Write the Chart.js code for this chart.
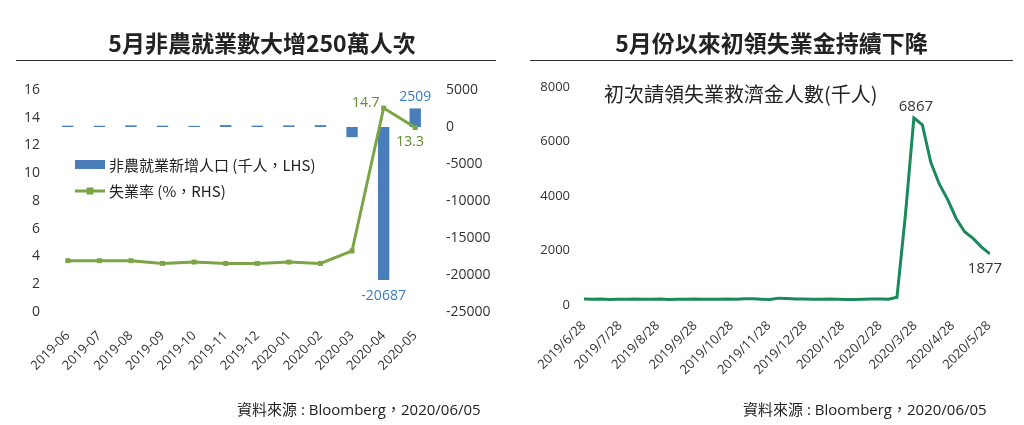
<!DOCTYPE html>
<html>
<head>
<meta charset="utf-8">
<script src="https://cdn.jsdelivr.net/npm/chart.js@4.4.1/dist/chart.umd.min.js"></script>
<style>
  html, body { margin:0; padding:0; background:#fff; }
  #page { position:relative; width:1024px; height:425px; overflow:hidden; background:#fff;
          font-family:'Open Sans','Noto Sans CJK TC',sans-serif; color:#222; }
  .title { position:absolute; top:27px; font-family:'Noto Sans CJK TC',sans-serif; font-weight:bold;
           font-size:23px; line-height:30px; text-align:center; color:#222; white-space:nowrap; z-index:2; }
  .rule { position:absolute; top:60px; height:0; border-top:1.5px solid #333; }
  .src { position:absolute; top:398px; font-size:15px; line-height:22px; color:#222; white-space:nowrap; z-index:2;
         font-family:'Open Sans','Noto Sans CJK TC',sans-serif; }
  .inner { position:absolute; left:604px; top:80px; font-family:'Noto Sans CJK TC',sans-serif; font-size:20px;
           line-height:28px; color:#222; white-space:nowrap; z-index:2; }
  .box { position:absolute; top:0; width:512px; height:425px; }
</style>
</head>
<body>
<div id="page">
  <div class="box" style="left:0"><canvas id="c1" width="512" height="425"></canvas></div>
  <div class="box" style="left:512px"><canvas id="c2" width="512" height="425"></canvas></div>
  <div class="title" style="left:22px;width:480px;">5月非農就業數大增250萬人次</div>
  <div class="title" style="left:530px;width:483px;">5月份以來初領失業金持續下降</div>
  <div class="rule" style="left:16px;width:480px;"></div>
  <div class="rule" style="left:530px;width:483px;"></div>
  <div class="inner">初次請領失業救濟金人數(千人)</div>
  <div class="src" style="left:237px;">資料來源 : Bloomberg，2020/06/05</div>
  <div class="src" style="left:743px;">資料來源 : Bloomberg，2020/06/05</div>
</div>
<script>
// ---------- Left chart data ----------
const months = ['2019-06','2019-07','2019-08','2019-09','2019-10','2019-11','2019-12','2020-01','2020-02','2020-03','2020-04','2020-05'];
const payrolls = [178, 166, 219, 180, 152, 256, 184, 214, 251, -1373, -20687, 2509];
const unemployment = [3.7, 3.7, 3.7, 3.5, 3.6, 3.5, 3.5, 3.6, 3.5, 4.4, 14.7, 13.3];
const payrollLabel = '非農就業新增人口 (千人，LHS)';
const unempLabel = '失業率 (%，RHS)';

// ---------- Right chart data ----------
const weekDates = ['2019-06-28','2019-07-05','2019-07-12','2019-07-19','2019-07-26','2019-08-02','2019-08-09','2019-08-16','2019-08-23','2019-08-30',
  '2019-09-06','2019-09-13','2019-09-20','2019-09-27','2019-10-04','2019-10-11','2019-10-18','2019-10-25','2019-11-01','2019-11-08',
  '2019-11-15','2019-11-22','2019-11-29','2019-12-06','2019-12-13','2019-12-20','2019-12-27','2020-01-03','2020-01-10','2020-01-17',
  '2020-01-24','2020-01-31','2020-02-07','2020-02-14','2020-02-21','2020-02-28','2020-03-06','2020-03-13','2020-03-20','2020-03-27',
  '2020-04-03','2020-04-10','2020-04-17','2020-04-24','2020-05-01','2020-05-08','2020-05-15','2020-05-22','2020-05-29'];
const claims = [221, 209, 216, 206, 215, 209, 220, 209, 215, 217,
  204, 208, 213, 219, 210, 214, 213, 218, 211, 225,
  227, 213, 203, 252, 235, 220, 223, 212, 207, 220,
  214, 202, 205, 210, 219, 216, 211, 282, 3307, 6867,
  6615, 5237, 4442, 3867, 3176, 2687, 2446, 2123, 1877];
const tickDates = ['2019-06-28','2019-07-28','2019-08-28','2019-09-28','2019-10-28','2019-11-28','2019-12-28','2020-01-28','2020-02-28','2020-03-28','2020-04-28','2020-05-28'];
const tickLabels = ['2019/6/28','2019/7/28','2019/8/28','2019/9/28','2019/10/28','2019/11/28','2019/12/28','2020/1/28','2020/2/28','2020/3/28','2020/4/28','2020/5/28'];

Chart.defaults.font.family = "'Open Sans','Noto Sans CJK TC',sans-serif";
Chart.defaults.color = '#333';

const BLUE = '#4A7EBB';
const GREEN = '#7BA444';
const BLUE_TXT = '#3A7CC0';
const GREEN_TXT = '#5F8C30';
const plain = v => String(v);

// ---------- Left chart ----------
const leftPlugin = {
  id: 'leftDecor',
  afterDatasetsDraw(chart) {
    const ctx = chart.ctx;
    const barMeta = chart.getDatasetMeta(0);
    const lineMeta = chart.getDatasetMeta(1);
    ctx.save();
    ctx.font = "14px 'Open Sans','Noto Sans CJK TC',sans-serif";
    ctx.textBaseline = 'middle';
    const iApr = payrolls.indexOf(Math.min(...payrolls));
    const iLast = payrolls.length - 1;
    ctx.fillStyle = BLUE_TXT;
    ctx.textAlign = 'center';
    const bA = barMeta.data[iApr];
    ctx.fillText(String(payrolls[iApr]), bA.x, bA.y + 16);
    const bL = barMeta.data[iLast];
    ctx.fillText(String(payrolls[iLast]), bL.x, bL.y - 11);
    const iMax = unemployment.indexOf(Math.max(...unemployment));
    ctx.fillStyle = GREEN_TXT;
    const pM = lineMeta.data[iMax];
    ctx.textAlign = 'right';
    ctx.fillText(unemployment[iMax].toFixed(1), pM.x - 4, pM.y - 5);
    const pL = lineMeta.data[iLast];
    ctx.textAlign = 'center';
    ctx.fillText(unemployment[iLast].toFixed(1), pL.x - 5, pL.y + 15);
    // legend
    ctx.font = "15px 'Noto Sans CJK TC','Open Sans',sans-serif";
    ctx.textAlign = 'left';
    ctx.fillStyle = BLUE;
    ctx.fillRect(75, 160, 30, 9);
    ctx.fillStyle = '#222';
    ctx.fillText(payrollLabel, 109, 165);
    ctx.strokeStyle = GREEN;
    ctx.lineWidth = 3;
    ctx.beginPath(); ctx.moveTo(75, 191); ctx.lineTo(105, 191); ctx.stroke();
    ctx.fillStyle = GREEN;
    ctx.fillRect(86.5, 187.5, 7, 7);
    ctx.fillStyle = '#222';
    ctx.fillText(unempLabel, 109, 191);
    ctx.restore();
  }
};

new Chart(document.getElementById('c1'), {
  data: {
    labels: months,
    datasets: [
      { type:'bar', label: payrollLabel, data: payrolls, yAxisID:'y2', backgroundColor: BLUE,
        categoryPercentage: 1, barPercentage: 0.36, order: 2 },
      { type:'line', label: unempLabel, data: unemployment, yAxisID:'y', borderColor: GREEN, backgroundColor: GREEN,
        borderWidth: 3, pointStyle:'rect', pointRadius: 3.5, pointBackgroundColor: GREEN, pointBorderWidth: 0,
        tension: 0, order: 1 }
    ]
  },
  options: {
    responsive:false, animation:false, devicePixelRatio: 1,
    layout: { padding: { top: 90, left: 0, right: 0, bottom: 43 } },
    plugins: { legend: { display:false }, tooltip: { enabled:false } },
    scales: {
      x: { grid:{ display:false, drawTicks:false }, border:{ display:false },
           ticks:{ minRotation:45, maxRotation:45, autoSkip:false, padding: 16, font:{ size:13 }, color:'#333' },
           afterFit(s){ s.height = 70; } },
      y: { position:'left', min:0, max:16, grid:{ display:false, drawTicks:false }, border:{ display:false },
           ticks:{ stepSize:2, padding: 12, font:{ size:14 }, color:'#333', callback: plain },
           afterFit(s){ s.width = 52; } },
      y2: { position:'right', min:-25000, max:5000, grid:{ display:false, drawTicks:false }, border:{ display:false },
            ticks:{ stepSize:5000, padding: 15, font:{ size:14 }, color:'#333', callback: plain },
            afterFit(s){ s.width = 81; } }
    }
  },
  plugins: [leftPlugin]
});

// ---------- Right chart ----------
const DAY = 86400000;
const t0 = Date.parse(weekDates[0]);
const dayOf = d => (Date.parse(d) - t0) / DAY;
const claimPoints = weekDates.map((d, i) => ({ x: dayOf(d), y: claims[i] }));

const rightPlugin = {
  id: 'rightDecor',
  afterDatasetsDraw(chart) {
    const ctx = chart.ctx;
    const meta = chart.getDatasetMeta(0);
    const iMax = claims.indexOf(Math.max(...claims));
    const iLast = claims.length - 1;
    ctx.save();
    ctx.font = "15px 'Open Sans',sans-serif";
    ctx.fillStyle = '#333';
    ctx.textBaseline = 'middle';
    ctx.textAlign = 'center';
    const pM = meta.data[iMax];
    ctx.fillText(String(claims[iMax]), pM.x + 2, pM.y - 11);
    const pL = meta.data[iLast];
    ctx.fillText(String(claims[iLast]), pL.x - 5, pL.y + 15);
    ctx.restore();
  }
};

new Chart(document.getElementById('c2'), {
  type: 'line',
  data: {
    datasets: [
      { label:'初次請領失業救濟金人數(千人)', data: claimPoints, borderColor:'#1B8A5A', borderWidth: 3,
        pointRadius: 0, tension: 0, fill:false }
    ]
  },
  options: {
    responsive:false, animation:false, devicePixelRatio: 1,
    layout: { padding: { top: 87, left: 0, right: 34, bottom: 50 } },
    plugins: { legend: { display:false }, tooltip: { enabled:false } },
    scales: {
      x: { type:'linear', min: 0, max: dayOf(weekDates[weekDates.length - 1]),
           grid:{ display:false, drawTicks:false }, border:{ display:false },
           afterBuildTicks(s){ s.ticks = tickDates.map(d => ({ value: dayOf(d) })); },
           ticks:{ autoSkip:false, minRotation:45, maxRotation:45, padding: 13, font:{ size:13 }, color:'#333',
                   callback:(v, i) => tickLabels[i] },
           afterFit(s){ s.height = 70; } },
      y: { min:0, max:8000, grid:{ display:false, drawTicks:false }, border:{ display:false },
           ticks:{ stepSize:2000, padding: 14, font:{ size:13 }, color:'#333', callback: plain },
           afterFit(s){ s.width = 72; } }
    }
  },
  plugins: [rightPlugin]
});
</script>
</body>
</html>
